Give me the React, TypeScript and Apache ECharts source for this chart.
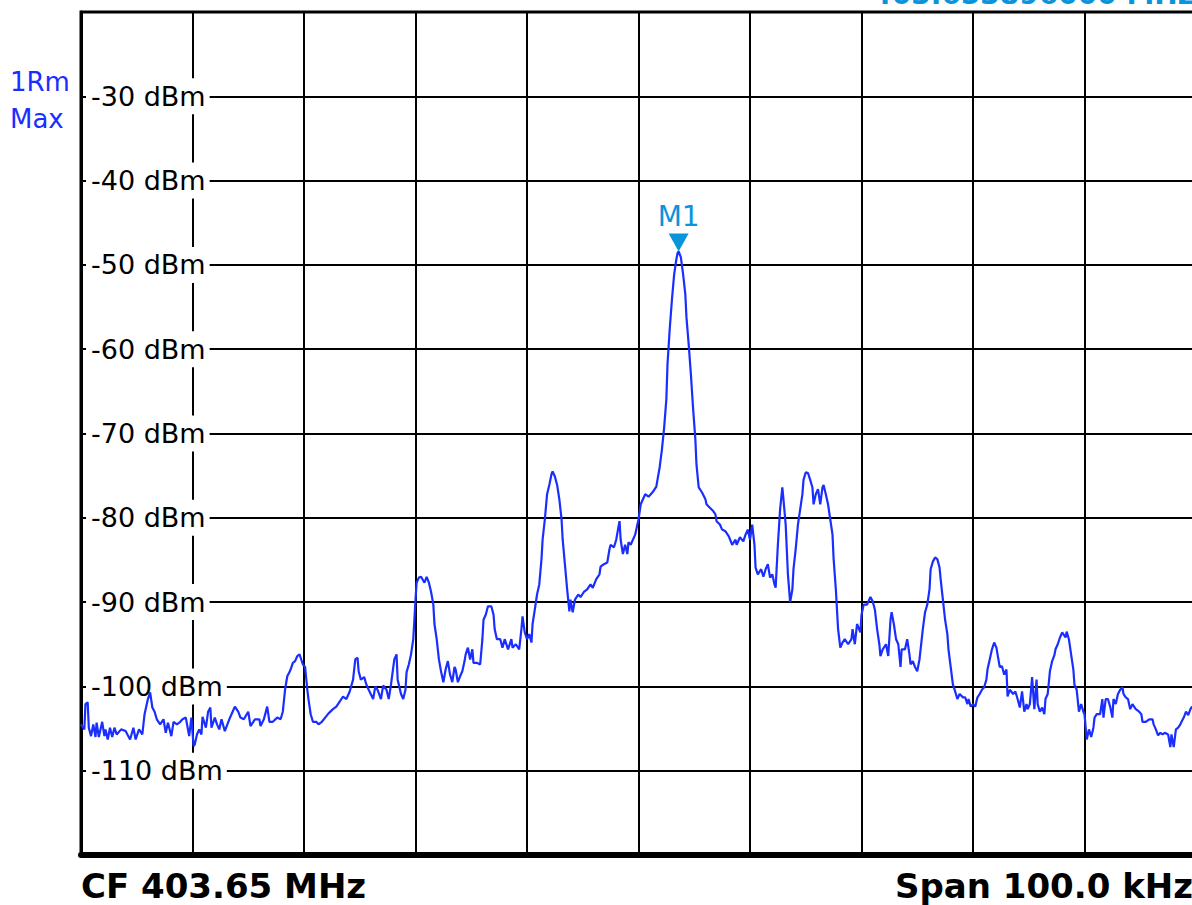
import React, { useEffect, useRef } from "react";
import * as echarts from "echarts";

// Frequency offset from the centre frequency (kHz) of each trace point
const freqOffsetKHz = [
  -50.0, -49.7, -49.6, -49.4, -49.3, -49.1, -48.9, -48.7, -48.6, -48.4, -48.1, -47.9, -47.8, -47.6, -47.4, -47.2,
  -47.0, -46.8, -46.4, -46.0, -45.6, -45.3, -45.1, -44.8, -44.5, -44.3, -44.0, -43.8, -43.6, -43.4, -43.2, -42.9,
  -42.6, -42.4, -42.2, -41.9, -41.7, -41.4, -41.1, -40.9, -40.6, -40.3, -40.1, -39.9, -39.8, -39.6, -39.4, -39.2,
  -39.1, -38.8, -38.6, -38.4, -38.3, -38.0, -37.8, -37.6, -37.4, -37.1, -36.7, -36.5, -36.2, -35.9, -35.7, -35.4,
  -35.0, -34.8, -34.4, -34.0, -33.9, -33.6, -33.3, -33.1, -32.8, -32.4, -32.1, -31.9, -31.7, -31.5, -31.3, -31.2,
  -31.0, -30.8, -30.6, -30.4, -30.3, -30.1, -29.9, -29.7, -29.6, -29.4, -29.2, -28.9, -28.7, -28.4, -28.1, -27.8,
  -27.4, -27.1, -26.8, -26.5, -26.2, -25.9, -25.6, -25.4, -25.2, -25.1, -24.9, -24.6, -24.4, -24.2, -23.8, -23.6,
  -23.4, -23.1, -22.9, -22.6, -22.4, -22.2, -21.9, -21.7, -21.6, -21.3, -21.1, -20.9, -20.8, -20.6, -20.4, -20.2,
  -20.1, -20.0, -19.9, -19.7, -19.5, -19.2, -19.0, -18.8, -18.6, -18.4, -18.3, -18.1, -17.9, -17.7, -17.5, -17.3,
  -17.1, -16.9, -16.7, -16.5, -16.4, -16.2, -16.0, -15.8, -15.6, -15.5, -15.3, -15.1, -14.9, -14.8, -14.5, -14.2,
  -14.0, -13.9, -13.7, -13.5, -13.2, -13.0, -12.9, -12.7, -12.4, -12.2, -12.0, -11.7, -11.4, -11.3, -11.0, -10.7,
  -10.5, -10.4, -10.2, -10.0, -9.8, -9.6, -9.5, -9.3, -9.1, -8.9, -8.7, -8.6, -8.4, -8.2, -8.0, -7.8,
  -7.7, -7.5, -7.3, -7.1, -6.9, -6.8, -6.6, -6.4, -6.2, -6.1, -5.9, -5.7, -5.4, -5.2, -4.9, -4.6,
  -4.3, -4.1, -3.8, -3.5, -3.4, -3.1, -2.8, -2.6, -2.5, -2.2, -2.0, -1.8, -1.7, -1.6, -1.4, -1.2,
  -1.0, -0.9, -0.7, -0.5, -0.3, -0.1, 0.0, 0.2, 0.4, 0.6, 0.9, 1.1, 1.3, 1.6, 1.7, 1.9,
  2.1, 2.3, 2.5, 2.6, 2.8, 3.0, 3.2, 3.4, 3.5, 3.6, 3.8, 4.0, 4.2, 4.3, 4.5, 4.7,
  4.9, 5.1, 5.2, 5.4, 5.7, 6.0, 6.1, 6.4, 6.7, 6.9, 7.0, 7.3, 7.5, 7.8, 8.1, 8.4,
  8.7, 8.8, 9.1, 9.4, 9.6, 9.8, 10.0, 10.2, 10.4, 10.5, 10.7, 11.0, 11.2, 11.4, 11.6, 11.8,
  12.0, 12.2, 12.3, 12.5, 12.7, 12.9, 13.0, 13.2, 13.4, 13.6, 13.8, 13.9, 14.1, 14.3, 14.5, 14.7,
  14.8, 15.0, 15.2, 15.4, 15.6, 15.7, 15.9, 16.1, 16.3, 16.5, 16.6, 16.8, 17.0, 17.2, 17.4, 17.5,
  17.7, 17.9, 18.1, 18.3, 18.5, 18.8, 19.1, 19.2, 19.4, 19.6, 19.9, 20.0, 20.2, 20.5, 20.8, 21.0,
  21.2, 21.4, 21.6, 21.7, 21.9, 22.2, 22.4, 22.6, 22.7, 22.9, 23.1, 23.3, 23.5, 23.6, 23.9, 24.1,
  24.3, 24.4, 24.6, 24.8, 25.0, 25.2, 25.3, 25.5, 25.7, 25.9, 26.1, 26.2, 26.4, 26.6, 26.8, 27.0,
  27.1, 27.3, 27.5, 27.7, 27.8, 28.0, 28.2, 28.4, 28.6, 28.8, 29.1, 29.3, 29.5, 29.6, 29.8, 30.0,
  30.2, 30.4, 30.6, 30.8, 31.0, 31.2, 31.3, 31.5, 31.7, 31.9, 32.1, 32.2, 32.4, 32.6, 32.8, 33.0,
  33.1, 33.3, 33.6, 33.8, 34.0, 34.2, 34.4, 34.6, 34.8, 34.9, 35.1, 35.3, 35.5, 35.7, 35.8, 36.0,
  36.2, 36.4, 36.5, 36.7, 36.9, 37.1, 37.3, 37.4, 37.6, 37.8, 38.0, 38.3, 38.4, 38.6, 38.8, 39.0,
  39.1, 39.3, 39.5, 39.7, 39.9, 40.0, 40.2, 40.4, 40.6, 40.8, 40.9, 41.1, 41.4, 41.6, 41.7, 41.9,
  42.1, 42.3, 42.5, 42.6, 42.8, 43.0, 43.2, 43.4, 43.5, 43.7, 43.9, 44.1, 44.3, 44.6, 44.9, 45.1,
  45.2, 45.5, 45.8, 46.1, 46.2, 46.4, 46.6, 46.8, 47.0, 47.2, 47.5, 47.7, 47.8, 48.0, 48.2, 48.4,
  48.6, 48.7, 48.9, 49.1, 49.3, 49.5, 49.6, 50.0,
];

// Trace level (dBm), max-hold RMS trace
const levelDbm = [
  -104.5, -105.1, -102.1, -101.9, -104.9, -105.9, -104.5, -106.0, -104.3, -106.0, -104.2, -105.9, -105.1, -106.3, -104.9, -106.0,
  -104.9, -105.7, -105.1, -105.3, -106.3, -104.9, -106.3, -105.1, -105.7, -103.3, -101.5, -100.7, -102.5, -103.0, -103.9, -104.5,
  -103.9, -105.5, -104.3, -105.9, -104.2, -104.5, -104.2, -103.9, -103.7, -105.9, -103.7, -107.1, -106.9, -105.7, -105.1, -105.7,
  -103.6, -104.9, -103.0, -102.5, -104.9, -103.7, -104.5, -105.1, -103.9, -105.3, -103.9, -103.3, -102.4, -103.0, -103.7, -103.9,
  -103.0, -104.7, -103.9, -103.9, -104.7, -103.9, -102.4, -104.2, -104.2, -103.7, -103.9, -103.0, -100.4, -98.8, -98.3, -98.0,
  -97.2, -97.0, -96.4, -96.2, -96.6, -97.4, -97.7, -100.4, -101.5, -103.3, -104.2, -104.2, -104.5, -104.2, -103.7, -103.2,
  -102.7, -102.4, -101.8, -101.2, -101.5, -100.6, -99.2, -96.8, -96.6, -98.2, -99.2, -98.9, -99.8, -100.4, -101.5, -100.0,
  -100.4, -101.5, -99.9, -100.4, -101.5, -99.8, -96.8, -96.2, -99.2, -100.9, -101.5, -100.4, -98.3, -97.4, -96.2, -94.4,
  -92.1, -89.7, -87.7, -87.1, -87.0, -87.7, -87.0, -87.7, -88.8, -90.3, -92.6, -94.4, -96.8, -98.3, -99.5, -98.0,
  -97.0, -98.6, -99.5, -97.7, -98.0, -99.5, -98.8, -98.2, -97.0, -96.2, -95.4, -96.8, -95.6, -97.2, -97.2, -97.4,
  -94.4, -92.1, -91.5, -90.5, -90.5, -91.5, -93.2, -94.4, -94.4, -95.4, -94.4, -95.6, -94.4, -95.4, -95.0, -95.6,
  -93.2, -91.7, -93.6, -94.4, -93.8, -94.8, -92.6, -90.9, -89.1, -87.9, -84.9, -82.6, -80.2, -77.2, -76.1, -74.8,
  -74.5, -75.1, -76.1, -77.8, -80.2, -82.6, -85.5, -88.5, -91.1, -89.7, -91.2, -89.7, -89.1, -89.4, -88.8, -88.5,
  -87.9, -88.3, -87.3, -86.7, -85.8, -85.5, -85.3, -83.7, -83.2, -83.5, -82.6, -81.1, -80.4, -82.6, -84.3, -83.2,
  -84.3, -82.9, -83.2, -82.6, -82.0, -80.8, -80.2, -78.4, -77.8, -77.2, -77.5, -77.2, -76.9, -76.3, -75.5, -74.0,
  -71.9, -69.3, -65.9, -61.8, -57.6, -54.1, -51.1, -49.3, -48.6, -48.4, -49.1, -51.1, -53.5, -56.2, -59.4, -63.0,
  -67.1, -70.7, -73.7, -76.4, -77.0, -77.8, -78.4, -78.8, -79.2, -79.6, -80.4, -80.8, -81.4, -81.6, -82.2, -83.2,
  -82.6, -83.2, -82.3, -82.8, -82.0, -81.4, -82.6, -80.8, -83.2, -85.9, -86.7, -86.1, -87.0, -86.1, -85.5, -87.1,
  -86.7, -87.9, -88.3, -83.2, -79.0, -76.4, -77.8, -80.8, -86.7, -90.0, -88.5, -86.1, -83.7, -80.8, -79.0, -77.2,
  -75.5, -74.6, -74.7, -75.5, -76.4, -78.4, -77.2, -76.6, -78.4, -76.4, -76.1, -77.2, -78.4, -80.2, -82.0, -84.9,
  -88.5, -93.2, -95.4, -94.8, -94.4, -95.0, -94.4, -93.2, -95.0, -92.6, -93.6, -91.5, -90.3, -90.3, -89.4, -89.9,
  -90.9, -93.2, -95.0, -96.4, -95.6, -95.0, -96.4, -92.1, -91.2, -92.6, -94.4, -95.0, -97.7, -95.6, -95.6, -94.4,
  -96.2, -97.4, -97.0, -97.7, -98.2, -96.8, -95.6, -93.2, -91.2, -90.3, -88.5, -86.1, -85.2, -84.7, -84.9, -85.9,
  -87.3, -89.7, -92.1, -93.8, -95.6, -97.7, -99.8, -100.6, -101.5, -100.9, -101.3, -101.3, -102.1, -101.5, -102.4, -102.1,
  -102.4, -101.3, -100.9, -100.4, -100.1, -99.2, -98.0, -96.8, -95.6, -94.8, -95.4, -96.2, -97.7, -97.6, -98.6, -98.0,
  -101.2, -100.4, -100.9, -100.6, -101.5, -102.5, -100.6, -103.0, -102.1, -102.7, -102.1, -98.9, -102.7, -99.2, -102.1, -103.0,
  -102.5, -103.3, -101.5, -100.9, -98.2, -97.0, -96.3, -95.6, -95.0, -94.2, -93.6, -94.2, -93.5, -94.4, -96.2, -98.0,
  -99.8, -100.4, -103.0, -102.1, -103.0, -103.3, -106.3, -105.1, -106.0, -104.9, -103.7, -103.3, -103.3, -101.5, -103.7, -101.5,
  -101.5, -102.4, -103.7, -101.5, -102.1, -100.9, -100.4, -100.1, -100.9, -101.3, -101.5, -102.7, -102.1, -102.7, -103.0, -103.3,
  -104.2, -104.2, -103.9, -103.9, -104.5, -105.1, -105.8, -105.5, -105.7, -105.5, -105.7, -107.2, -105.7, -107.2, -105.1, -104.9,
  -104.5, -104.2, -103.7, -103.0, -103.4, -102.7, -102.5, -102.1,
];

// Marker M1 (peak)
const markerName = "M1";
const markerFreqKHz = 3.6;
const markerLevelDbm = -48.4;

// Axis settings
const spanMinKHz = -50;
const spanMaxKHz = 50;
const divKHz = 10;
const refMinDbm = -120;
const refMaxDbm = -20;
const divDb = 10;

const centerLabel = "CF 403.65 MHz";
const spanLabel = "Span 100.0 kHz";
const traceLabels = ["1Rm", "Max"];
const markerReadout = "403.653896000 MHz";

const TRACE_BLUE = "#1a2eff";
const MARKER_BLUE = "#0a94dc";
const FONT = '"DejaVu Sans", Verdana, sans-serif';

export default function App() {
  const ref = useRef<HTMLDivElement>(null);

  useEffect(() => {
    if (!ref.current) return;
    const chart = echarts.init(ref.current, undefined, { renderer: "svg" });
    const traceData = freqOffsetKHz.map((f, i) => [f, levelDbm[i]]);

    chart.setOption({
      animation: false,
      backgroundColor: "#ffffff",
      grid: {
        left: 81,
        top: 12,
        width: 1115,
        height: 843,
        show: true,
        borderColor: "#000",
        borderWidth: 3,
        backgroundColor: "transparent",
      },
      xAxis: {
        type: "value",
        min: spanMinKHz,
        max: spanMaxKHz,
        interval: divKHz,
        axisLine: { show: true, onZero: false, lineStyle: { color: "#000", width: 6 } },
        axisTick: { show: false },
        axisLabel: { show: false },
        splitLine: { show: true, lineStyle: { color: "#000", width: 2 } },
      },
      yAxis: {
        type: "value",
        min: refMinDbm,
        max: refMaxDbm,
        interval: divDb,
        z: 1,
        axisLine: { show: true, onZero: false, lineStyle: { color: "#000", width: 3 } },
        axisTick: { show: false },
        splitLine: { show: true, lineStyle: { color: "#000", width: 2 } },
        axisLabel: {
          inside: true,
          showMinLabel: false,
          showMaxLabel: false,
          formatter: "{value} dBm",
          color: "#000",
          fontSize: 27,
          fontFamily: FONT,
          backgroundColor: "#fff",
          padding: [6, 4, 3, 5],
          margin: 5,
        },
      },
      series: [
        {
          type: "line",
          data: traceData,
          showSymbol: false,
          symbol: "none",
          lineStyle: { color: TRACE_BLUE, width: 2.2 },
          z: 3,
        },
        {
          type: "scatter",
          data: [[markerFreqKHz, markerLevelDbm]],
          symbol: "path://M0,0 L20,0 L10,18 Z",
          symbolSize: [20, 18],
          symbolOffset: [0, -9],
          itemStyle: { color: MARKER_BLUE, opacity: 1 },
          z: 4,
          label: {
            show: true,
            position: "top",
            distance: 3,
            formatter: markerName,
            color: MARKER_BLUE,
            opacity: 1,
            fontSize: 28,
            fontFamily: FONT,
          },
        },
      ],
      graphic: [
        {
          type: "text",
          x: 10,
          y: 82,
          style: { text: traceLabels[0], font: `26px ${FONT}`, fill: TRACE_BLUE, verticalAlign: "middle" },
          z: 5,
        },
        {
          type: "rect",
          shape: { x: 68, y: 60, width: 10, height: 40 },
          style: { fill: "#fff" },
          z: 6,
        },
        {
          type: "text",
          x: 10,
          y: 119,
          style: { text: traceLabels[1], font: `26px ${FONT}`, fill: TRACE_BLUE, verticalAlign: "middle" },
          z: 5,
        },
        {
          type: "text",
          x: 81,
          y: 886,
          style: { text: centerLabel, font: `bold 34px ${FONT}`, fill: "#000", verticalAlign: "middle" },
        },
        {
          type: "text",
          x: 1193,
          y: 886,
          style: { text: spanLabel, font: `bold 34px ${FONT}`, fill: "#000", align: "right", verticalAlign: "middle" },
        },
        {
          type: "text",
          x: 1194,
          y: 8,
          style: { text: markerReadout, font: `bold 28px ${FONT}`, fill: MARKER_BLUE, align: "right", verticalAlign: "bottom" },
        },
      ],
    });

    return () => chart.dispose();
  }, []);

  return (
    <div
      style={{
        position: "fixed",
        left: 0,
        top: 0,
        width: 1192,
        height: 905,
        overflow: "hidden",
        background: "#fff",
      }}
    >
      <div ref={ref} style={{ width: 1200, height: 905 }} />
    </div>
  );
}
